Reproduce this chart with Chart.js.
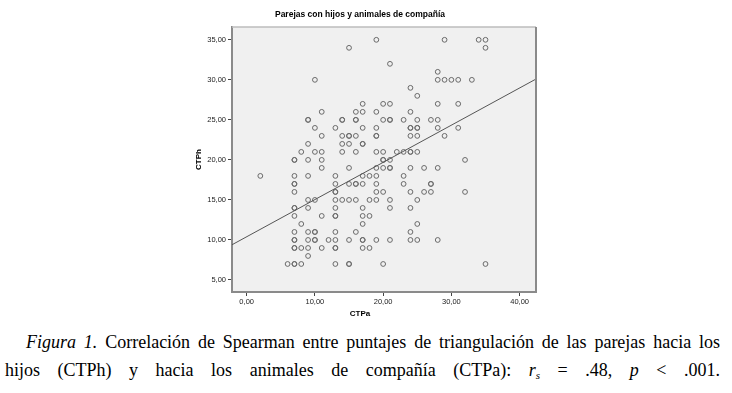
<!DOCTYPE html>
<html>
<head>
<meta charset="utf-8">
<script src="https://cdn.jsdelivr.net/npm/chart.js@4.4.1/dist/chart.umd.min.js"></script>
<style>
    body { margin: 0; background: #fff; width: 732px; height: 393px; overflow: hidden; }
    #wrap { position: relative; width: 732px; height: 325px; }
    .caption {
        font-family: "Liberation Serif", "Times New Roman", serif;
        font-size: 18px;
        line-height: 28px;
        color: #000;
        text-align: justify;
        text-align-last: justify;
        white-space: nowrap;
    }
    #line1 { position: absolute; top: 328px; left: 26px; width: 694px; }
    #line2 { position: absolute; top: 356px; left: 5px; width: 715px; }
    sub { font-size: 11px; vertical-align: -3px; line-height: 0; }
</style>
</head>
<body>
<div id="wrap"><canvas id="scatter" width="732" height="325"></canvas></div>
<div class="caption" id="line1"><i>Figura 1.</i> Correlación de Spearman entre puntajes de triangulación de las parejas hacia los</div>
<div class="caption" id="line2">hijos (CTPh) y hacia los animales de compañía (CTPa): <i>r<sub>s</sub></i> = .48, <i>p</i> &lt; .001.</div>

<script>
// valores de CTPh (filas) y los CTPa que aparecen en cada fila
const ctphLevels = [35, 34, 32, 31, 30, 29, 28, 27, 26, 25, 24, 23, 22, 21, 20, 19, 18, 17, 16, 15, 14, 13, 12, 11, 10, 9, 8, 7];
const ctpaAtLevel = [
    [19, 29, 34, 35],
    [15, 35],
    [21],
    [28],
    [10, 28, 29, 30, 31, 33],
    [24],
    [25],
    [17, 20, 21, 28, 31],
    [11, 16, 17, 19, 24],
    [9, 9, 14, 14, 16, 16, 20, 21, 21, 23, 25, 27, 28],
    [10, 13, 17, 19, 24, 24, 25, 25, 28, 31],
    [11, 14, 15, 15, 16, 19, 19, 24, 25, 29],
    [9, 14, 15, 17, 17],
    [8, 10, 11, 14, 16, 19, 20, 22, 23, 24, 24, 25],
    [7, 7, 9, 11, 20, 20, 21, 32],
    [11, 15, 19, 20, 21, 21, 24, 26, 28],
    [2, 7, 9, 13, 17, 18, 19, 23],
    [7, 7, 13, 15, 16, 16, 17, 19, 23, 27, 27],
    [7, 13, 13, 19, 20, 24, 26, 27, 32],
    [9, 10, 13, 14, 15, 16, 18, 19, 21, 25],
    [7, 7, 9, 13, 17, 21, 24],
    [7, 11, 13, 13, 17, 18],
    [8, 17, 25],
    [7, 9, 10, 10, 13, 16, 24],
    [7, 7, 9, 10, 10, 12, 13, 15, 17, 17, 19, 21, 24, 25, 28],
    [7, 7, 8, 9, 11, 13, 13, 17, 18],
    [9],
    [6, 7, 7, 8, 13, 15, 15, 20, 35]
];

// recta de ajuste (extremos)
const fitX = [-2.15, 42.4];
const fitY = [9.4, 30.1];

const xTicks = [0, 10, 20, 30, 40];
const yTicks = [5, 10, 15, 20, 25, 30, 35];

let points = [];
for (let i = 0; i < ctphLevels.length; i++) {
    for (let j = 0; j < ctpaAtLevel[i].length; j++) {
        points.push({ x: ctpaAtLevel[i][j], y: ctphLevels[i] });
    }
}

function fmt(v) {
    return v.toFixed(2).replace('.', ',');
}

// fondo gris del area del grafico
const plotBg = {
    id: 'plotBg',
    beforeDraw(chart) {
        const a = chart.chartArea;
        const ctx = chart.ctx;
        ctx.save();
        ctx.fillStyle = '#f0f0f0';
        ctx.fillRect(a.left, a.top, a.right - a.left, a.bottom - a.top);
        ctx.restore();
    },
    afterDraw(chart) {
        const a = chart.chartArea;
        const ctx = chart.ctx;
        ctx.save();
        ctx.strokeStyle = '#bdbdbd';
        ctx.lineWidth = 1.5;
        ctx.beginPath();
        ctx.moveTo(a.left, a.top);
        ctx.lineTo(a.right, a.top);
        ctx.stroke();
        ctx.strokeStyle = '#8a8a8a';
        ctx.lineWidth = 2;
        ctx.beginPath();
        ctx.moveTo(a.right, a.top);
        ctx.lineTo(a.right, a.bottom);
        ctx.stroke();
        // titulo del eje x centrado como el titulo general
        const tb = chart.titleBlock;
        ctx.fillStyle = '#000';
        ctx.font = 'bold 8px "Liberation Sans", Arial, sans-serif';
        ctx.textAlign = 'center';
        ctx.textBaseline = 'middle';
        ctx.fillText('CTPa', (tb.left + tb.right) / 2, 314);
        ctx.restore();
    }
};

new Chart(document.getElementById('scatter'), {
    type: 'scatter',
    data: {
        datasets: [{
            data: points,
            pointStyle: 'circle',
            pointRadius: 2.4,
            pointBorderWidth: 1,
            pointBorderColor: '#6a6a6a',
            pointBackgroundColor: 'rgba(0,0,0,0)',
            order: 2
        }, {
            type: 'line',
            data: [{ x: fitX[0], y: fitY[0] }, { x: fitX[1], y: fitY[1] }],
            borderColor: '#555',
            borderWidth: 1,
            pointRadius: 0,
            fill: false,
            order: 1
        }]
    },
    options: {
        responsive: false,
        animation: false,
        devicePixelRatio: 1,
        layout: { padding: { left: 184, right: 196, top: 0, bottom: 0 } },
        plugins: {
            legend: { display: false },
            tooltip: { enabled: false },
            title: {
                display: true,
                text: 'Parejas con hijos y animales de compañía',
                color: '#000',
                font: { family: '"Liberation Sans", Arial, sans-serif', size: 8.5, weight: 'bold' },
                padding: { top: 10, bottom: 6.8 }
            }
        },
        scales: {
            x: {
                type: 'linear',
                min: fitX[0],
                max: fitX[1],
                afterBuildTicks: s => { s.ticks = xTicks.map(v => ({ value: v })); },
                afterFit: s => { s.height = 33; },
                ticks: {
                    callback: v => fmt(v),
                    color: '#222',
                    font: { family: '"Liberation Sans", Arial, sans-serif', size: 7.5 },
                    padding: 1,
                    maxRotation: 0
                },
                grid: { drawOnChartArea: false, tickLength: 4, color: '#444', tickWidth: 1 },
                border: { display: true, color: '#8a8a8a', width: 2 }
            },
            y: {
                type: 'linear',
                min: 3.5,
                max: 36.6,
                afterBuildTicks: s => { s.ticks = yTicks.map(v => ({ value: v })); },
                afterFit: s => { s.width = 48; },
                ticks: {
                    callback: v => fmt(v),
                    color: '#222',
                    font: { family: '"Liberation Sans", Arial, sans-serif', size: 7.5 },
                    padding: 2
                },
                title: {
                    display: true,
                    text: 'CTPh',
                    color: '#000',
                    font: { family: '"Liberation Sans", Arial, sans-serif', size: 8, weight: 'bold' },
                    padding: { top: 10, bottom: 0 }
                },
                grid: { drawOnChartArea: false, tickLength: 4, color: '#444', tickWidth: 1 },
                border: { display: true, color: '#8a8a8a', width: 2 }
            }
        }
    },
    plugins: [plotBg]
});
</script>
</body>
</html>
